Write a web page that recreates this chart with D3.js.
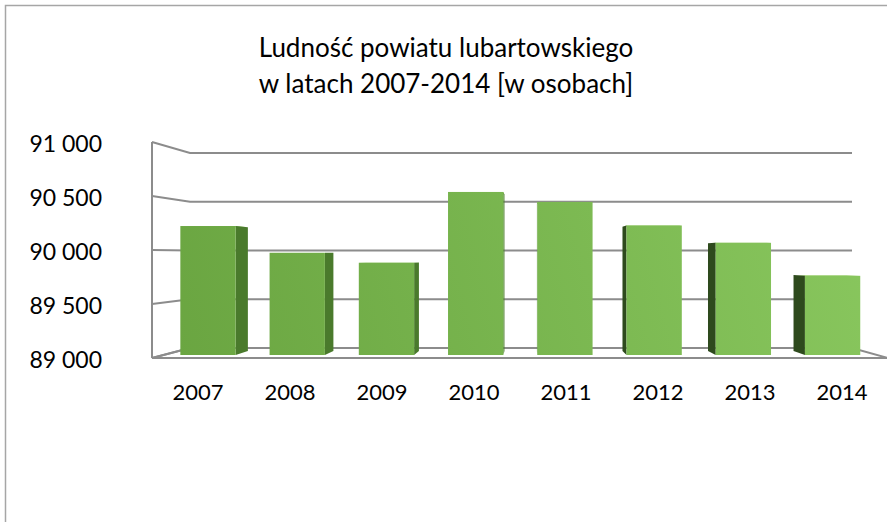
<!DOCTYPE html>
<html>
<head>
<meta charset="utf-8">
<script src="https://cdn.jsdelivr.net/npm/d3@7"></script>
<style>
  body { margin: 0; background: #fff; }
  text { font-family: Lato, 'Open Sans', sans-serif; fill: #000; }
</style>
</head>
<body>
<div id="chart"></div>
<script>
const years = ['2007', '2008', '2009', '2010', '2011', '2012', '2013', '2014']
const population = [90230, 89975, 89880, 90555, 90460, 90235, 90070, 89755]
const yTicks = [89000, 89500, 90000, 90500, 91000]
const titleLines = ['Ludność powiatu lubartowskiego', 'w latach 2007-2014 [w osobach]']

const width = 887
const height = 522

const svg = d3
  .select('#chart')
  .append('svg')
  .attr('width', width)
  .attr('height', height)

// outer frame (runs off the right and bottom edge)
svg
  .append('rect')
  .attr('x', 5.5)
  .attr('y', 5.5)
  .attr('width', 950)
  .attr('height', 600)
  .attr('fill', 'none')
  .attr('stroke', '#a6a6a6')
  .attr('stroke-width', 1.5)

// fake 3d: a front plane and a back plane, depth t goes 0 (front) -> 1 (back)
const yFront = d3.scaleLinear().domain([89000, 91000]).range([358, 142])
const yBack = d3.scaleLinear().domain([89000, 91000]).range([348, 153])
const xFront = d3.scaleLinear().domain([0, 1]).range([152, 888])
const xBack = d3.scaleLinear().domain([0, 1]).range([190, 852])

const u = d3
  .scaleBand()
  .domain(years)
  .range([0, 1])
  .paddingInner(0.38)
  .paddingOuter(0.19)

const pt = (uu, v, t) => [
  xFront(uu) * (1 - t) + xBack(uu) * t,
  yFront(v) * (1 - t) + yBack(v) * t
]

const tFront = 0.3
const tBack = 0.7
const grid = '#8c8c8c'

const walls = svg.append('g')

// left wall and back wall gridlines
yTicks.forEach(v => {
  walls
    .append('polyline')
    .attr('points', [pt(0, v, 0), pt(0, v, 1), pt(1, v, 1)].map(p => p.join(',')).join(' '))
    .attr('fill', 'none')
    .attr('stroke', grid)
    .attr('stroke-width', 2)
})

// floor
walls
  .append('polygon')
  .attr('points', [pt(0, 89000, 0), pt(0, 89000, 1), pt(1, 89000, 1), pt(1, 89000, 0)].map(p => p.join(',')).join(' '))
  .attr('fill', 'none')
  .attr('stroke', grid)
  .attr('stroke-width', 2)

// left wall front edge
walls
  .append('line')
  .attr('x1', xFront(0))
  .attr('x2', xFront(0))
  .attr('y1', yFront(91000))
  .attr('y2', yFront(89000))
  .attr('stroke', grid)
  .attr('stroke-width', 2)

const defs = svg.append('defs')
const grad = defs
  .append('linearGradient')
  .attr('id', 'frontGrad')
  .attr('gradientUnits', 'userSpaceOnUse')
  .attr('x1', 150)
  .attr('y1', 360)
  .attr('x2', 870)
  .attr('y2', 170)
grad.append('stop').attr('offset', 0).attr('stop-color', '#69a440')
grad.append('stop').attr('offset', 1).attr('stop-color', '#89c75e')

const poly = pts => pts.map(p => p.join(',')).join(' ')

const bars = svg.append('g')

years.forEach((yr, i) => {
  const v = population[i]
  const u0 = u(yr)
  const u1 = u0 + u.bandwidth()
  const g = bars.append('g')
  const leftOfCenter = u0 + u.bandwidth() / 2 < 0.52

  // top face
  g.append('polygon')
    .attr('points', poly([pt(u0, v, tFront), pt(u1, v, tFront), pt(u1, v, tBack), pt(u0, v, tBack)]))
    .attr('fill', '#9fd073')

  // side face
  const us = leftOfCenter ? u1 : u0
  g.append('polygon')
    .attr('points', poly([pt(us, 89000, tFront), pt(us, v, tFront), pt(us, v, tBack), pt(us, 89000, tBack)]))
    .attr('fill', leftOfCenter ? '#4a7a2c' : '#2e4a1d')

  // front face
  const a = pt(u0, v, tFront)
  const b = pt(u1, 89000, tFront)
  g.append('rect')
    .attr('x', a[0])
    .attr('y', a[1])
    .attr('width', b[0] - a[0])
    .attr('height', b[1] - a[1])
    .attr('fill', 'url(#frontGrad)')
})

// y axis labels
svg
  .append('g')
  .selectAll('text')
  .data(yTicks)
  .enter()
  .append('text')
  .attr('x', 102)
  .attr('y', d => yFront(d) + 9.5)
  .attr('text-anchor', 'end')
  .style('font-size', '23px')
  .text(d => d3.format(',')(d).replace(',', ' '))

// x axis labels
svg
  .append('g')
  .selectAll('text')
  .data(years)
  .enter()
  .append('text')
  .attr('x', d => xFront(u(d) + u.bandwidth() / 2))
  .attr('y', 400)
  .attr('text-anchor', 'middle')
  .style('font-size', '22px')
  .text(d => d)

// title
svg
  .append('g')
  .selectAll('text')
  .data(titleLines)
  .enter()
  .append('text')
  .attr('x', 446)
  .attr('y', (d, i) => 57 + i * 36)
  .attr('text-anchor', 'middle')
  .style('font-size', '26px')
  .text(d => d)
</script>
</body>
</html>
